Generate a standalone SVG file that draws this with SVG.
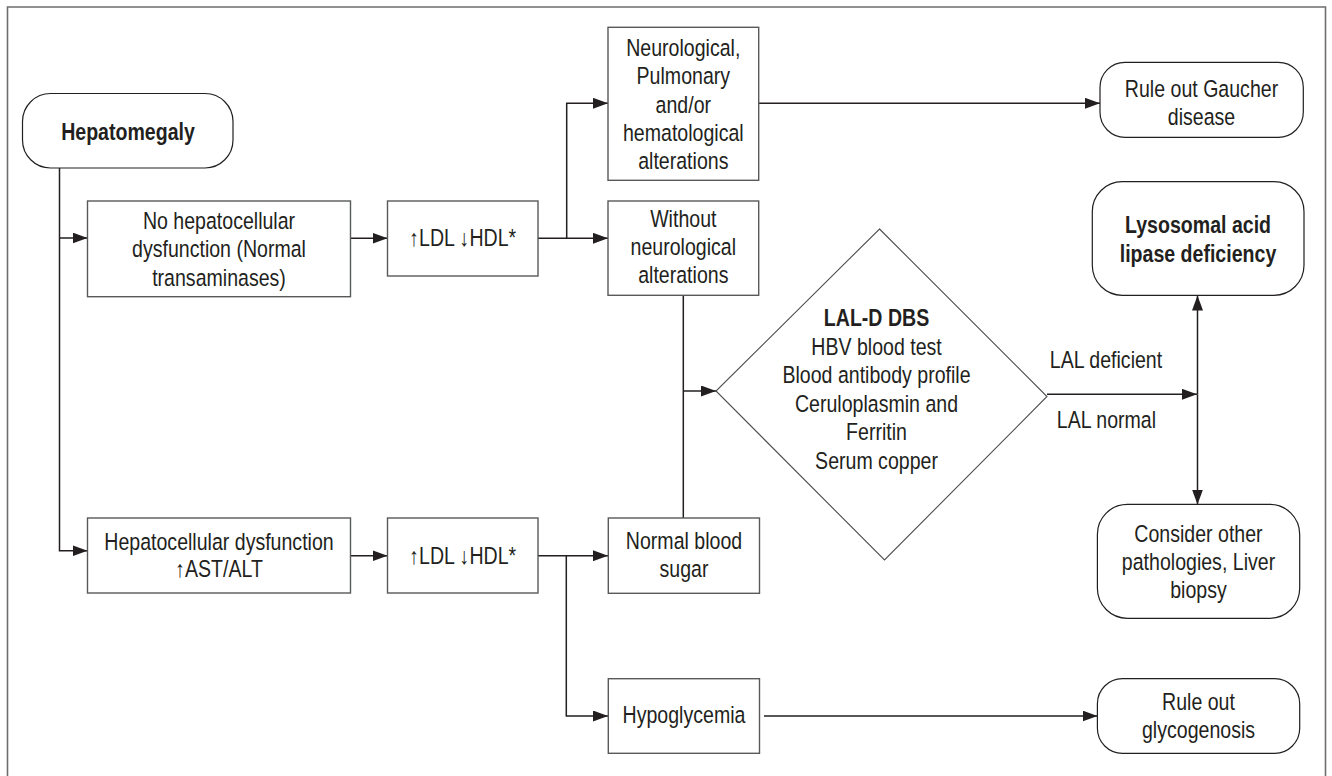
<svg xmlns="http://www.w3.org/2000/svg" width="1332" height="776" viewBox="0 0 1332 776">
<defs>
<marker id="arr" markerUnits="userSpaceOnUse" markerWidth="16" markerHeight="11" refX="15" refY="5.5" orient="auto">
<path d="M0,0 L15,5.5 L0,11 z" fill="#231f20"/>
</marker>
</defs>
<style>
text{font-family:"Liberation Sans",Arial,sans-serif;font-size:23.3px;fill:#231f20;text-anchor:middle}
.b{font-weight:bold}
.box{fill:#fff;stroke:#58595b;stroke-width:1.4}
.rnd{fill:#fff;stroke:#231f20;stroke-width:1.2}
.dia{fill:#fff;stroke:#4d4d4f;stroke-width:1.1}
.ln{fill:none;stroke:#231f20;stroke-width:1.5}
.ar{fill:none;stroke:#231f20;stroke-width:1.5;marker-end:url(#arr)}
.frame{fill:none;stroke:#6d6e71;stroke-width:1.6}
</style>
<rect width="1332" height="776" fill="#fff"/>
<path class="frame" d="M7.5 776 V7 H1325.5 V776"/>

<g id="connectors">
<path class="ln" d="M59.5 168 V238"/>
<path class="ar" d="M59.5 238 H87.5"/>
<path class="ar" d="M59.5 238 V550.7 H87.5"/>
<path class="ar" d="M350.7 238.3 H387.5"/>
<path class="ar" d="M538 238.3 H608"/>
<path class="ar" d="M566.7 238.3 V103.3 H608"/>
<path class="ar" d="M758.7 103.3 H1100"/>
<path class="ln" d="M683.3 295.3 V518"/>
<path class="ar" d="M683.3 391 H716"/>
<path class="ar" d="M350.7 555.7 H387.5"/>
<path class="ar" d="M538 555.7 H608"/>
<path class="ar" d="M566.3 555.7 V716 H608"/>
<path class="ar" d="M764 716 H1097.5"/>
<path class="ar" d="M1047 394.3 H1197"/>
<path class="ar" d="M1197.5 394.3 V295.5"/>
<path class="ar" d="M1197.5 394.3 V504.5"/>
</g>

<g id="hepatomegaly">
<rect class="rnd" x="22.5" y="93.5" width="210.5" height="74.5" rx="28" ry="28"/>
<text class="b" transform="matrix(0.84 0 0 1 128 0)" x="0" y="140">Hepatomegaly</text>
</g>

<g id="no-dysfunction">
<rect class="box" x="87.5" y="201" width="263" height="95.7"/>
<g transform="matrix(0.84 0 0 1 219 0)">
<text x="0" y="229">No hepatocellular</text>
<text x="0" y="257.3">dysfunction (Normal</text>
<text x="0" y="285.7">transaminases)</text>
</g>
</g>

<g id="ldl-hdl-1">
<rect class="box" x="387.5" y="201" width="150.5" height="75"/>
<text transform="matrix(0.84 0 0 1 462.7 0)" x="0" y="246.5">↑LDL ↓HDL*</text>
</g>

<g id="neurological">
<rect class="box" x="608" y="27.3" width="150.7" height="153"/>
<g transform="matrix(0.84 0 0 1 683.3 0)">
<text x="0" y="56">Neurological,</text>
<text x="0" y="84.3">Pulmonary</text>
<text x="0" y="112.6">and/or</text>
<text x="0" y="141">hematological</text>
<text x="0" y="169.3">alterations</text>
</g>
</g>

<g id="without-neuro">
<rect class="box" x="608" y="201" width="150.7" height="94.3"/>
<g transform="matrix(0.84 0 0 1 683.3 0)">
<text x="0" y="226.7">Without</text>
<text x="0" y="255">neurological</text>
<text x="0" y="283.3">alterations</text>
</g>
</g>

<g id="gaucher">
<rect class="rnd" x="1100" y="62.3" width="203.3" height="75" rx="25" ry="25"/>
<g transform="matrix(0.84 0 0 1 1201.5 0)">
<text x="0" y="96.7">Rule out Gaucher</text>
<text x="0" y="125">disease</text>
</g>
</g>

<g id="lal-deficiency">
<rect class="rnd" x="1092.3" y="181.7" width="211.7" height="113.6" rx="30" ry="30"/>
<g transform="matrix(0.84 0 0 1 1198 0)">
<text class="b" x="0" y="233.3">Lysosomal acid</text>
<text class="b" x="0" y="261.7">lipase deficiency</text>
</g>
</g>

<g id="lal-d-dbs">
<polygon class="dia" points="879.5,229 1047,396.5 884.5,560 716,391"/>
<g transform="matrix(0.84 0 0 1 876.5 0)">
<text class="b" x="0" y="326">LAL-D DBS</text>
<text x="0" y="355">HBV blood test</text>
<text x="0" y="383.5">Blood antibody profile</text>
<text x="0" y="412">Ceruloplasmin and</text>
<text x="0" y="440.5">Ferritin</text>
<text x="0" y="469">Serum copper</text>
</g>
</g>

<g id="labels">
<text transform="matrix(0.84 0 0 1 1106 0)" x="0" y="368.3">LAL deficient</text>
<text transform="matrix(0.84 0 0 1 1106.4 0)" x="0" y="428.3">LAL normal</text>
</g>

<g id="consider-other">
<rect class="rnd" x="1097.4" y="504.3" width="202.3" height="114" rx="30" ry="30"/>
<g transform="matrix(0.84 0 0 1 1198.5 0)">
<text x="0" y="541.7">Consider other</text>
<text x="0" y="570">pathologies, Liver</text>
<text x="0" y="598.3">biopsy</text>
</g>
</g>

<g id="hepatocellular-dysfunction">
<rect class="box" x="87.5" y="518" width="263" height="75"/>
<g transform="matrix(0.84 0 0 1 219 0)">
<text x="0" y="550">Hepatocellular dysfunction</text>
<text x="0" y="577.5">↑AST/ALT</text>
</g>
</g>

<g id="ldl-hdl-2">
<rect class="box" x="387.5" y="518" width="150.5" height="75"/>
<text transform="matrix(0.84 0 0 1 462.7 0)" x="0" y="564">↑LDL ↓HDL*</text>
</g>

<g id="normal-blood-sugar">
<rect class="box" x="608.3" y="518" width="151.2" height="75.3"/>
<g transform="matrix(0.84 0 0 1 684 0)">
<text x="0" y="549.3">Normal blood</text>
<text x="0" y="576.7">sugar</text>
</g>
</g>

<g id="hypoglycemia">
<rect class="box" x="608.3" y="678.7" width="151.2" height="74.6"/>
<text transform="matrix(0.84 0 0 1 684 0)" x="0" y="723">Hypoglycemia</text>
</g>

<g id="glycogenosis">
<rect class="rnd" x="1097.4" y="678.7" width="202.3" height="74.6" rx="25" ry="25"/>
<g transform="matrix(0.84 0 0 1 1198.5 0)">
<text x="0" y="710">Rule out</text>
<text x="0" y="737.7">glycogenosis</text>
</g>
</g>
</svg>
